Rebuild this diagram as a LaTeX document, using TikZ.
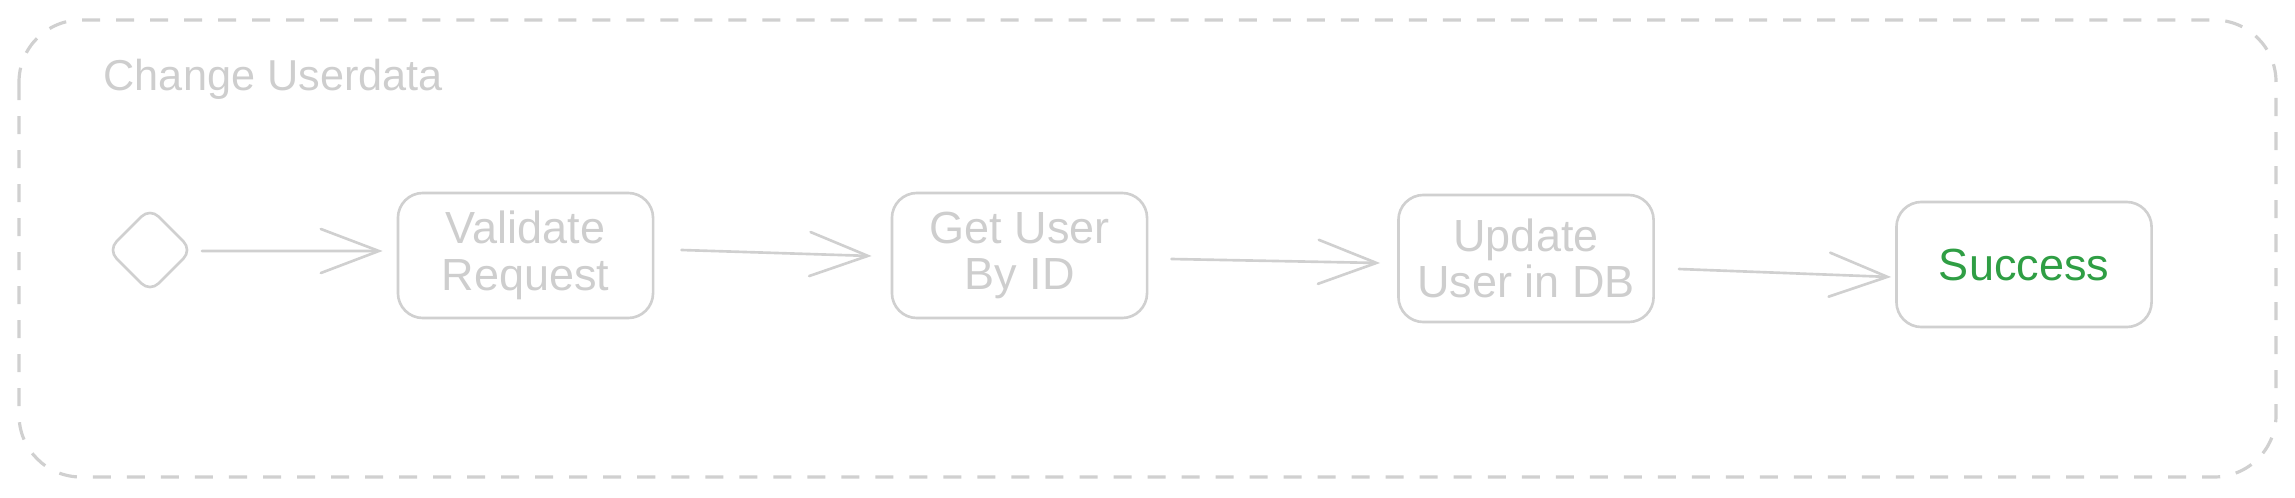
\documentclass[tikz,border=0pt]{standalone}
\usepackage{fontspec}
\setmainfont{Liberation Sans}
\usetikzlibrary{arrows.meta,shapes.geometric}
\definecolor{sketch}{RGB}{208,208,208}
\definecolor{txtgray}{RGB}{206,206,206}
\definecolor{okgreen}{HTML}{2F9E44}
\tikzset{
  stepbox/.style={draw=sketch, line width=0.75pt, rounded corners=2.5mm, minimum width=2.55cm, minimum height=1.25cm, inner sep=0pt, align=center, text=txtgray, font=\fontsize{12.8pt}{13.3pt}\selectfont},
  startdia/.style={diamond, draw=sketch, line width=0.75pt, rounded corners=1.2mm, minimum width=8.5mm, minimum height=8.5mm, inner sep=0pt},
  arr/.style={draw=sketch, line width=0.75pt, line cap=round, -{Straight Barb[length=5.8mm,width=4.4mm,line cap=round]}},
  frame/.style={draw=sketch, line width=0.9pt, dash pattern=on 1.8mm off 1.6mm, rounded corners=6.2mm},
  titletxt/.style={text=txtgray, font=\fontsize{12.3pt}{14pt}\selectfont, inner sep=0pt, anchor=base west}
}
\begin{document}
\begin{tikzpicture}[x=0.01cm, y=-0.01cm]
\useasboundingbox (0,0) rectangle (2295,497);
\draw[frame] (19,20) rectangle (2276,477);
\node[titletxt] (title) at (103,90) {Change Userdata};
\node[startdia] (d) at (150,250) {};
\node[stepbox] (v) at (525.5,255.5) {Validate\\Request};
\node[stepbox] (g) at (1019.5,255.5) {Get User\\By ID};
\node[stepbox, minimum height=1.27cm] (u) at (1526,258.5) {Update\\User in DB};
\node[stepbox, text=okgreen] (s) at (2024,264.5) {Success};
\draw[arr] ([xshift=0.8mm,yshift=-0.1mm]d.east) -- ([xshift=-1.4mm,yshift=0.45mm]v.west);
\draw[arr] ([xshift=2.7mm,yshift=0.55mm]v.east) -- ([xshift=-1.9mm,yshift=-0.05mm]g.west);
\draw[arr] ([xshift=2.3mm,yshift=-0.35mm]g.east) -- ([xshift=-1.7mm,yshift=-0.45mm]u.west);
\draw[arr] ([xshift=2.4mm,yshift=-1.05mm]u.east) -- ([xshift=-0.4mm,yshift=-1.25mm]s.west);
\end{tikzpicture}
\end{document}
